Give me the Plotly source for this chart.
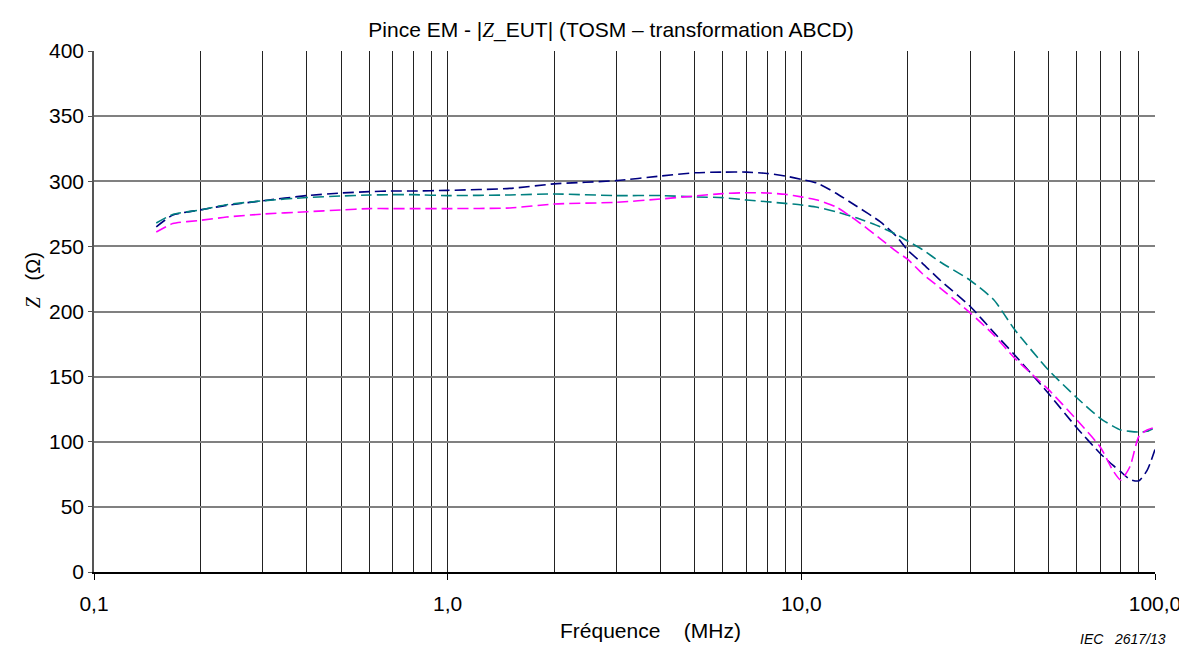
import plotly.graph_objects as go

freq_mhz = [0.15, 0.167, 0.2, 0.237, 0.3, 0.4, 0.5, 0.6, 0.7, 0.8, 1.0, 1.5, 2.0, 3.0, 4.0,
            5.0, 6.0, 7.0, 8.0, 9.0, 10.0, 11.1, 12.5, 14.3, 16.7, 18.6, 20.0, 22.0, 24.7, 30.0,
            35.0, 40.0, 50.0, 60.0, 70.0, 76.0, 80.0, 85.0, 90.0, 95.0, 100.0]

z_navy = [265, 274, 278, 281.5, 285, 289, 291, 292, 292.5, 292.5, 293, 294.5, 298, 300.5, 304,
          306.5, 307, 307, 306, 304, 301.5, 298.5, 291, 281, 269, 257.5, 247, 237, 224, 204,
          184, 167, 137, 111, 91, 82, 77, 71, 70, 78, 94]

z_teal = [268, 274.5, 278, 282, 285, 287.5, 288.7, 289.4, 289.7, 289.7, 289, 289.5, 290.2, 289, 289,
          288, 287.4, 285.6, 284.3, 283, 281.8, 280, 276.6, 272, 265, 259, 254, 247.5, 238, 224,
          209, 186.5, 155, 134, 118, 112, 109, 108, 107.5, 108, 111]

z_pink = [261, 267.5, 270, 272.5, 274.8, 276.6, 278, 279, 279, 279, 279, 279.5, 282.5, 283.8, 286.4,
          288.7, 290.5, 291.2, 291, 290, 288, 285.6, 280.5, 270, 256, 246, 240, 229, 218, 199,
          182, 164.5, 140, 117, 96, 78, 70.6, 81, 104, 109, 111]

x_major = [0.1, 1, 10, 100]
x_major_text = ["0,1", "1,0", "10,0", "100,0"]
x_minor = [m * d for d in (0.1, 1, 10) for m in range(2, 10)]
y_ticks = list(range(0, 401, 50))

series = [
    ("navy", z_navy, "#000080"),
    ("teal", z_teal, "#008080"),
    ("magenta", z_pink, "#FF00FF"),
]

fig = go.Figure()
for name, vals, col in series:
    fig.add_trace(go.Scatter(
        x=freq_mhz, y=vals, mode="lines", name=name,
        line=dict(color=col, width=1.6, dash="11px,5px", shape="spline", smoothing=0.6),
        showlegend=False,
    ))

font_main = "Liberation Sans, Arial, sans-serif"
zsym = "<i><span style='font-family:Liberation Serif'>Z</span></i>"

fig.update_layout(
    width=1179, height=641,
    margin=dict(l=86, r=32, t=43, b=77),
    paper_bgcolor="white", plot_bgcolor="white",
    font=dict(family=font_main, size=21, color="black"),
    title=dict(text="Pince EM - |" + zsym + "_EUT| (TOSM – transformation ABCD)",
               x=0.5115, xanchor="center", y=1 - 22 / 641, yanchor="middle",
               font=dict(size=21)),
    xaxis=dict(
        type="log", range=[-1, 2],
        tickvals=x_major, ticktext=x_major_text,
        ticks="outside", ticklen=6, tickcolor="black",
        ticklabelstandoff=6, ticklabeloverflow="allow", automargin=False,
        showgrid=True, gridcolor="#222222", gridwidth=1,
        showline=True, linecolor="black", linewidth=1.5,
        minor=dict(tickvals=x_minor, showgrid=True, gridcolor="#222222", gridwidth=1, ticks=""),
        zeroline=False,
        tickfont=dict(size=21),
    ),
    yaxis=dict(
        range=[0, 400], tickvals=y_ticks,
        ticks="outside", ticklen=4, tickcolor="#555555",
        automargin=False,
        showgrid=True, gridcolor="#808080", gridwidth=1.5,
        showline=True, linecolor="#555555", linewidth=1.5,
        zeroline=False,
        tickfont=dict(size=21),
    ),
    annotations=[
        dict(text="Fréquence&nbsp;&nbsp;&nbsp;&nbsp;(MHz)", xref="paper", yref="paper", x=0.5245, y=-0.113,
             xanchor="center", yanchor="middle", showarrow=False, font=dict(size=21)),
        dict(text=zsym + "&nbsp;&nbsp;&nbsp;(Ω)", xref="paper", yref="paper", x=-0.0575, y=0.56,
             xanchor="center", yanchor="middle", textangle=-90, showarrow=False,
             font=dict(size=20)),
        dict(text="<i>IEC&nbsp;&nbsp;&nbsp;2617/13</i>", xref="paper", yref="paper", x=1.0122,
             y=(564 - 641) / 521, xanchor="right", yanchor="bottom", showarrow=False,
             font=dict(size=14)),
    ],
)

fig.write_html("out.html")
